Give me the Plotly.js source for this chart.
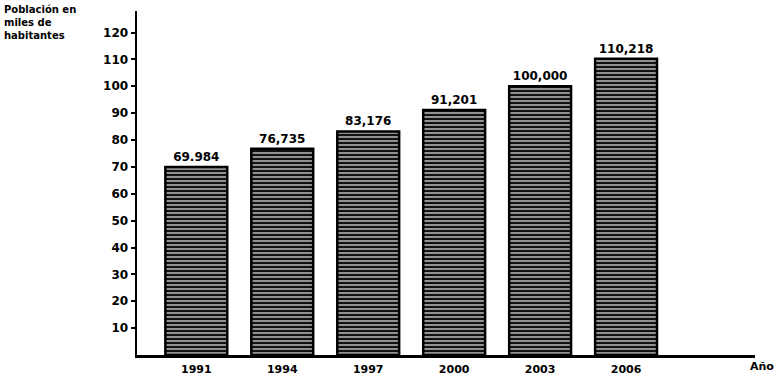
<!DOCTYPE html>
<html>
<head>
<meta charset="utf-8">
<script src="https://cdn.plot.ly/plotly-3.0.1.min.js"></script>
<style>html,body{margin:0;padding:0;background:#fff;}#chart{width:778px;height:378px;}</style>
</head>
<body>
<div id="chart"></div>
<script>
const years = ["1991", "1994", "1997", "2000", "2003", "2006"];
const population = [69.984, 76.735, 83.176, 91.201, 100.000, 110.218];
const valueLabels = ["69.984", "76,735", "83,176", "91,201", "100,000", "110,218"];
const yTicks = [10, 20, 30, 40, 50, 60, 70, 80, 90, 100, 110, 120];
const yTickLabels = ["10", "20", "30", "40", "50", "60", "70", "80", "90", "100", "110", "120"];

const boldFont = {family: "DejaVu Sans, Arial, sans-serif", size: 11, color: "#000", weight: 700};

const trace = {
  type: "bar",
  x: years,
  y: population,
  text: valueLabels,
  textposition: "outside",
  cliponaxis: false,
  textfont: {family: "DejaVu Sans, Arial, sans-serif", size: 12, color: "#000", weight: 700},
  marker: {
    color: "#111",
    line: {color: "#000", width: 2.5},
    pattern: {shape: "-", bgcolor: "#111", fgcolor: "#e6e6e6", size: 4, solidity: 0.3}
  },
  hoverinfo: "skip"
};

const layout = {
  width: 778,
  height: 378,
  margin: {l: 137, r: 23, t: 11, b: 23},
  paper_bgcolor: "#fff",
  plot_bgcolor: "#fff",
  showlegend: false,
  bargap: 0.28,
  xaxis: {
    type: "category",
    range: [-0.69, 6.5],
    showline: true,
    linecolor: "#000",
    linewidth: 2.5,
    ticks: "",
    showgrid: false,
    zeroline: false,
    tickfont: boldFont,
    ticklabelstandoff: 2
  },
  yaxis: {
    range: [0, 128],
    tickvals: yTicks,
    ticktext: yTickLabels,
    showline: true,
    linecolor: "#000",
    linewidth: 2.5,
    ticks: "outside",
    ticklen: 4,
    tickwidth: 2,
    tickcolor: "#000",
    showgrid: false,
    zeroline: false,
    tickfont: {family: "DejaVu Sans, Arial, sans-serif", size: 12, color: "#000", weight: 700}
  },
  annotations: [
    {
      xref: "paper", yref: "paper",
      x: -0.218, y: 1.025,
      xanchor: "left", yanchor: "top",
      align: "left",
      showarrow: false,
      text: "Población en<br>miles de<br>habitantes",
      font: {family: "DejaVu Sans, Arial, sans-serif", size: 10, color: "#000", weight: 700}
    },
    {
      xref: "paper", yref: "paper",
      x: 1.034, y: -0.01,
      xanchor: "right", yanchor: "top",
      showarrow: false,
      text: "Año",
      font: {family: "DejaVu Sans, Arial, sans-serif", size: 11, color: "#000", weight: 700}
    }
  ]
};

Plotly.newPlot("chart", [trace], layout, {displayModeBar: false, staticPlot: true});
</script>
</body>
</html>
